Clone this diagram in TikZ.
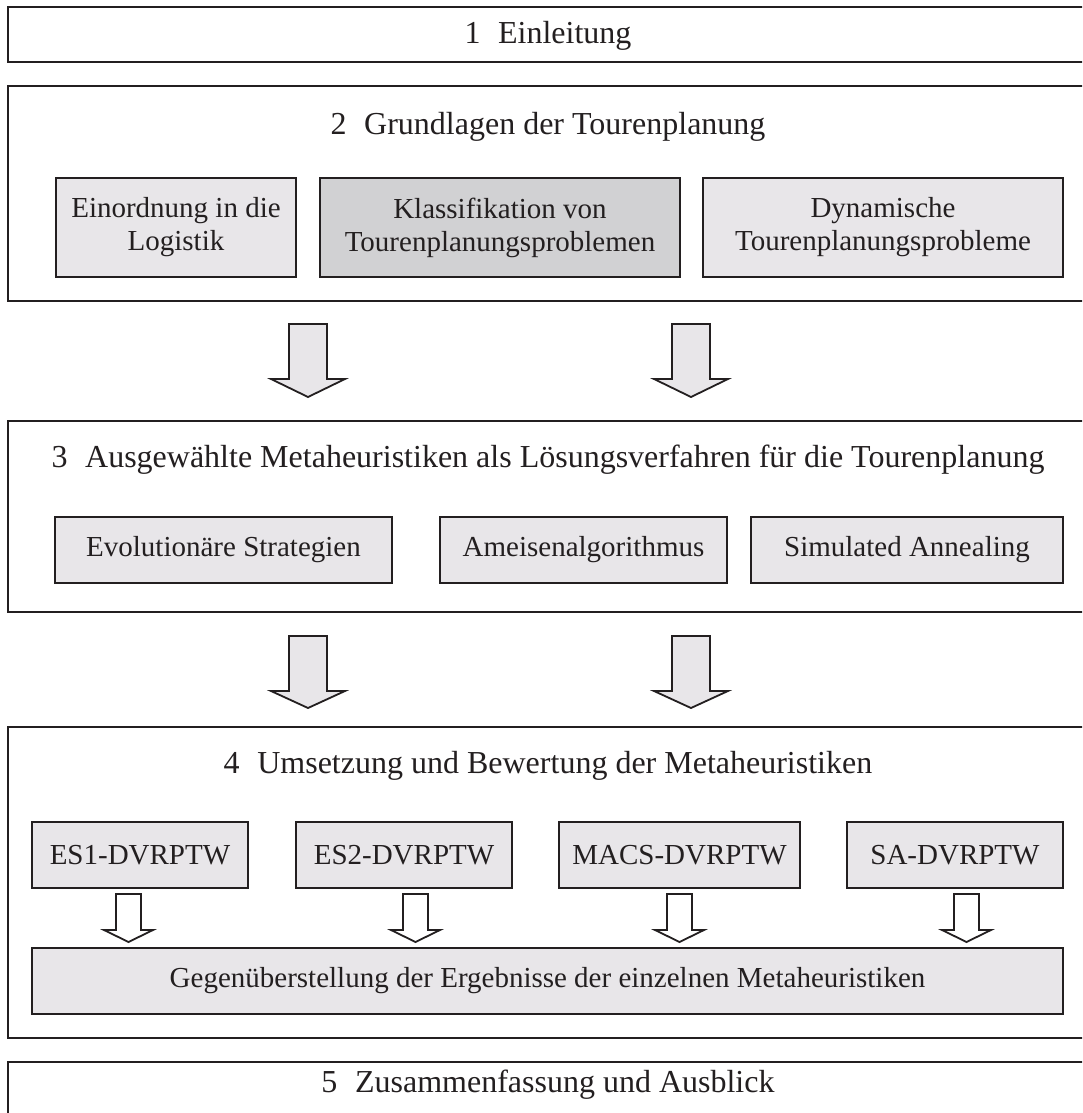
\documentclass[tikz,border=0pt]{standalone}
\usepackage{fontspec}
\setmainfont{Liberation Serif}
\definecolor{ink}{HTML}{231F20}
\definecolor{boxfill}{HTML}{E8E6E9}
\definecolor{boxdark}{HTML}{D1D1D3}
% block arrow: centre x, top y, head base y, tip y, half shaft, half head, fill
\newcommand\blockarrow[7]{%
  \draw[arrowline,fill=#7] (#1-#5,#2) -- (#1+#5,#2) -- (#1+#5,#3) -- (#1+#6,#3)
    -- (#1,#4) -- (#1-#6,#3) -- (#1-#5,#3) -- cycle;}
\begin{document}
\begin{tikzpicture}[x=0.5pt,y=-0.5pt,
  frame/.style={draw=ink,line width=1pt,fill=white,inner sep=0pt,minimum width=546pt},
  title/.style={anchor=base,inner sep=0pt,font=\fontsize{16pt}{19pt}\selectfont,text=ink},
  ibox/.style={draw=ink,line width=1pt,fill=boxfill,inner sep=0pt,align=center,
    font=\fontsize{14.5pt}{16.5pt}\selectfont,text=ink},
  arrowline/.style={draw=ink,line width=0.9pt,line join=miter}]
\clip (0,0) rectangle (1082,1113);
\fill[white] (0,0) rectangle (1082,1113);

% chapter frames
\node[frame,minimum height=27.5pt]  (f1) at (554,34.5)  {};
\node[frame,minimum height=107.5pt] (f2) at (554,193.5) {};
\node[frame,minimum height=95.5pt]  (f3) at (554,516.5) {};
\node[frame,minimum height=155.5pt] (f4) at (554,882.5) {};
\node[frame,minimum height=39pt]    (f5) at (554,1101)  {};

% chapter titles
\node[title] (t1) at (548,44)   {1\hspace{0.55em}Einleitung};
\node[title] (t2) at (548,134)  {2\hspace{0.55em}Grundlagen der Tourenplanung};
\node[title] (t3) at (548,467)  {3\hspace{0.55em}Ausgewählte Metaheuristiken als Lösungsverfahren für die Tourenplanung};
\node[title] (t4) at (548,773)  {4\hspace{0.55em}Umsetzung und Bewertung der Metaheuristiken};
\node[title] (t5) at (548,1092) {5\hspace{0.55em}Zusammenfassung und Ausblick};

% chapter 2 sections
\node[ibox,minimum width=120pt,minimum height=49.5pt] (log) at (176,227.5) {Einordnung in die\\Logistik};
\node[ibox,fill=boxdark,minimum width=180pt,minimum height=49.5pt] (kla) at (500,227.5) {Klassifikation von\\Tourenplanungsproblemen};
\node[ibox,minimum width=180pt,minimum height=49.5pt] (dyn) at (883,227.5) {Dynamische\\Tourenplanungsprobleme};

% chapter 3 sections
\node[ibox,minimum width=168.5pt,minimum height=33pt] (evo) at (223.5,550) {Evolutionäre Strategien};
\node[ibox,minimum width=143.5pt,minimum height=33pt] (ame) at (583.5,550) {Ameisenalgorithmus};
\node[ibox,minimum width=156pt,minimum height=33pt]   (sim) at (907,550)   {Simulated Annealing};

% chapter 4 sections
\node[ibox,minimum width=108pt,minimum height=33pt]   (es1)  at (140,855)   {ES1-DVRPTW};
\node[ibox,minimum width=108pt,minimum height=33pt]   (es2)  at (404,855)   {ES2-DVRPTW};
\node[ibox,minimum width=120.5pt,minimum height=33pt] (macs) at (679.5,855) {MACS-DVRPTW};
\node[ibox,minimum width=108pt,minimum height=33pt]   (sa)   at (955,855)   {SA-DVRPTW};
\node[ibox,minimum width=515.5pt,minimum height=33pt] (cmp)  at (547.5,981) {Gegenüberstellung der Ergebnisse der einzelnen Metaheuristiken};

% block arrows between chapters
\blockarrow{308}{324}{379}{397}{19}{37}{boxfill}
\blockarrow{691}{324}{379}{397}{19}{37}{boxfill}
\blockarrow{308}{636}{691}{708}{19}{37}{boxfill}
\blockarrow{691}{636}{691}{708}{19}{37}{boxfill}

% small arrows into the comparison
\blockarrow{128.5}{894}{930}{942}{12.5}{24.5}{white}
\blockarrow{415.5}{894}{930}{942}{12.5}{24.5}{white}
\blockarrow{679.5}{894}{930}{942}{12.5}{24.5}{white}
\blockarrow{966.5}{894}{930}{942}{12.5}{24.5}{white}
\end{tikzpicture}
\end{document}
